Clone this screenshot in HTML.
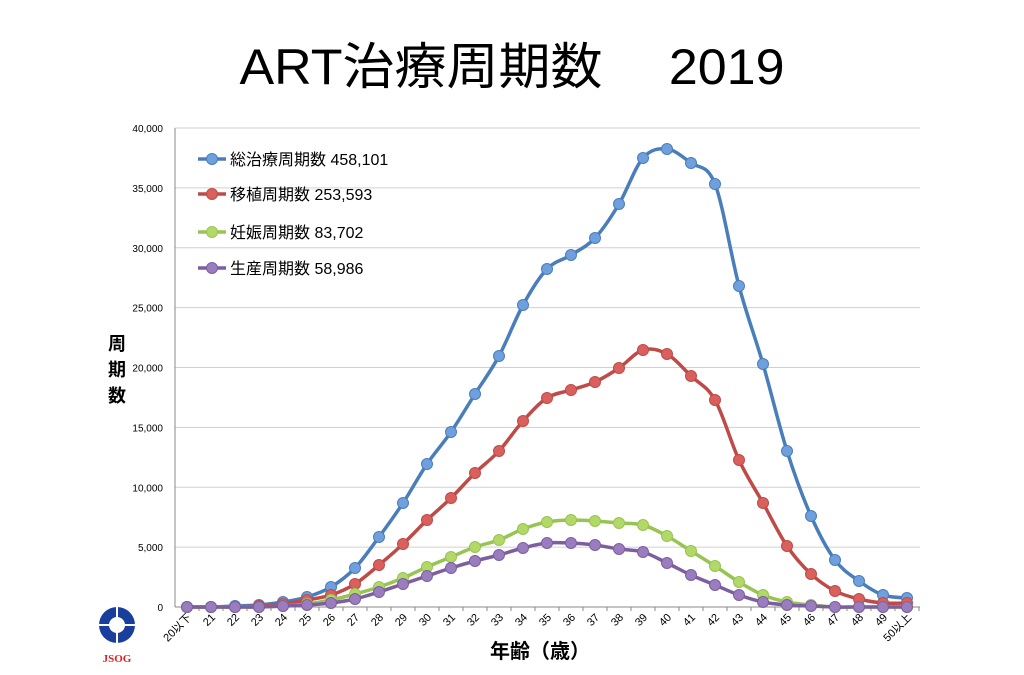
<!DOCTYPE html>
<html><head><meta charset="utf-8"><style>
body{margin:0;background:#fff;width:1024px;height:670px;overflow:hidden}
svg{font-family:"Liberation Sans","Noto Sans CJK JP",sans-serif}
</style></head><body>
<svg id="s" width="1024" height="670" xmlns="http://www.w3.org/2000/svg">
<text x="512" y="84" font-size="50" text-anchor="middle" fill="#000" textLength="545" lengthAdjust="spacingAndGlyphs">ART治療周期数　 2019</text>
<g id="grid"></g>
<line x1="175" y1="128" x2="175" y2="607" stroke="#888"/>
<line x1="175" y1="607" x2="920" y2="607" stroke="#888"/>
<g id="xt"></g>
<g id="series"></g>
<text font-size="18" font-weight="bold" x="117" y="350" text-anchor="middle">周</text>
<text font-size="18" font-weight="bold" x="117" y="376" text-anchor="middle">期</text>
<text font-size="18" font-weight="bold" x="117" y="402" text-anchor="middle">数</text>
<text font-size="20" font-weight="bold" x="540" y="658" text-anchor="middle">年齢（歳）</text>
<circle cx="117" cy="625" r="18" fill="#1a3e9c"/>
<circle cx="117" cy="625" r="8" fill="#fff"/>
<line x1="99" y1="625" x2="135" y2="625" stroke="#fff" stroke-width="2"/>
<line x1="117" y1="607" x2="117" y2="643" stroke="#fff" stroke-width="2"/>
<text x="117" y="662" font-size="11" font-weight="bold" fill="#d22" text-anchor="middle" font-family="Liberation Serif,serif">JSOG</text>
<g id="leg"></g>
</svg>
<script>
var NS="http://www.w3.org/2000/svg",s=document.getElementById('s');
function el(p,t,a,txt){var e=document.createElementNS(NS,t);for(var k in a)e.setAttribute(k,a[k]);if(txt!=null)e.textContent=txt;document.getElementById(p).appendChild(e);return e;}
for(var i=0;i<=8;i++){var y=607-i*59.875;if(i>0)el('grid','line',{x1:175,x2:920,y1:y,y2:y,stroke:'#d0d0d0'});
el('grid','text',{x:163,y:y+4,'font-size':10,'text-anchor':'end'},i==0?'0':(i*5)+',000');}
var X=function(i){return 187+i*24;};
for(var i=0;i<31;i++){var lab=i==0?'20以下':i==30?'50以上':String(20+i);
el('xt','line',{x1:X(i)+12,x2:X(i)+12,y1:607,y2:611,stroke:'#888'});
el('xt','text',{x:X(i)+5,y:618,'font-size':11,'text-anchor':'end',transform:'rotate(-45 '+(X(i)+5)+' 618)'},lab);}
var S=[
['#4a7ebb','#6fa0dd',[607,607,606,605,602,597,587,568,537,503,464,432,394,356,305,269,255,238,204,158,149,163,184,286,364,451,516,560,581,595,598]],
['#be4b48','#d9605c',[607,607,607,606,604,600,595,584,565,544,520,498,473,451,421,398,390,382,368,350,354,376,400,460,503,546,574,591,599,603,603]],
['#98c454','#b2d868',[607,607,607,607,606,604,600,594,587,578,567,557,547,540,529,522,520,521,523,525,536,551,566,582,595,602,605,607,607,607,607]],
['#7d5fa0','#9a7dbe',[607,607,607,607,606,605,603,599,592,584,576,568,561,555,548,543,543,545,549,552,563,575,585,595,602,605,606,607,607,607,607]]];
S.forEach(function(sr){var d=sr[2],p='M'+X(0)+','+d[0];
for(var i=0;i<30;i++){var p0=Math.max(0,i-1),p3=Math.min(30,i+2);
p+=' C'+(X(i)+(X(i+1)-X(p0))/6)+','+(d[i]+(d[i+1]-d[p0])/6)+' '+(X(i+1)-(X(p3)-X(i))/6)+','+(d[i+1]-(d[p3]-d[i])/6)+' '+X(i+1)+','+d[i+1];}
el('series','path',{d:p,fill:'none',stroke:sr[0],'stroke-width':3.5});
d.forEach(function(v,i){el('series','circle',{cx:X(i),cy:v,r:5.5,fill:sr[1],stroke:sr[0],'stroke-width':1});});});
var L=[['総治療周期数 458,101',159],['移植周期数 253,593',194],['妊娠周期数 83,702',232],['生産周期数 58,986',268]];
L.forEach(function(l,i){el('leg','line',{x1:198,x2:226,y1:l[1],y2:l[1],stroke:S[i][0],'stroke-width':3.5});
el('leg','circle',{cx:212,cy:l[1],r:5.5,fill:S[i][1],stroke:S[i][0]});
el('leg','text',{x:230,y:l[1]+6,'font-size':16},l[0]);});
</script>
</body></html>
